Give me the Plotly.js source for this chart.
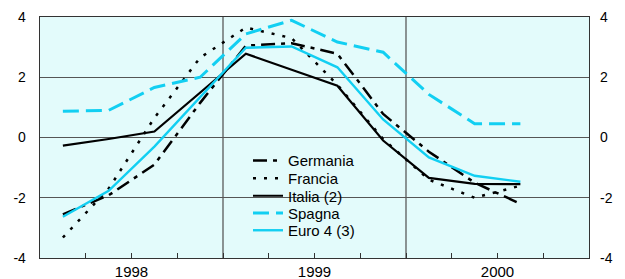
<!DOCTYPE html>
<html>
<head>
<meta charset="utf-8">
<script src="https://cdn.plot.ly/plotly-3.0.1.min.js"></script>
<style>html,body{margin:0;padding:0;background:#fff}#chart{width:625px;height:279px}</style>
</head>
<body>
<div id="chart"></div>
<script>
// Quarterly observations, Q1 1998 – Q3 2000
const quarters = ['1998Q1','1998Q2','1998Q3','1998Q4','1999Q1','1999Q2','1999Q3','1999Q4','2000Q1','2000Q2','2000Q3'];
const germania = [-2.55, -1.92, -0.90, 1.15, 3.05, 3.13, 2.78, 0.78, -0.47, -1.50, -2.20];
const francia  = [-3.32, -1.70, 0.65, 2.65, 3.65, 3.30, 1.75, -0.05, -1.40, -2.00, -1.60];
const italia   = [-0.27, -0.05, 0.20, 1.50, 2.78, 2.25, 1.72, -0.10, -1.34, -1.54, -1.55];
const spagna   = [0.87, 0.90, 1.66, 2.00, 3.44, 3.89, 3.17, 2.83, 1.43, 0.46, 0.46];
const euro4    = [-2.63, -1.77, -0.30, 1.35, 2.98, 3.02, 2.33, 0.60, -0.66, -1.27, -1.47];
const seriesNames = ['Germania', 'Francia', 'Italia (2)', 'Spagna', 'Euro 4 (3)'];
const yearLabels = ['1998', '1999', '2000'];
const yTicks = [-4, -2, 0, 2, 4];
const yTickText = ['-4', '-2', '0', '2', '4'];

// position of each quarter at its mid-point on a decimal-year axis
const xq = quarters.map(q => +q.slice(0, 4) + (+q.slice(5) - 0.5) / 4);
const yearMid = yearLabels.map(y => +y + 0.5);
const yearBounds = yearLabels.slice(1).map(y => +y);

const FONT = 'Arial, "Liberation Sans", sans-serif';
const CYAN = '#12cff2';
const BG = '#e3fbfb';

const styles = [
  {color: '#000', width: 2.5, dash: '14px,6px,4px,6px'},
  {color: '#000', width: 2.5, dash: '3px,8px'},
  {color: '#000', width: 2.2},
  {color: CYAN, width: 3, dash: '16px,7px'},
  {color: CYAN, width: 2.4}
];
const values = [germania, francia, italia, spagna, euro4];
const legendIds = ['legend', 'legend2', 'legend3', 'legend4', 'legend5'];

const traces = values.map((v, i) => ({
  x: xq, y: v, name: seriesNames[i], type: 'scatter', mode: 'lines', hoverinfo: 'skip',
  line: styles[i], legend: legendIds[i]
}));
traces.push({x: [], y: [], yaxis: 'y2', type: 'scatter', mode: 'lines', showlegend: false, hoverinfo: 'skip'});

const L = 40, R = 589, T = 17, B = 258;
const px = v => (v - L) / (R - L);
const py = v => (B - v) / (B - T);

const shapes = yearBounds.map(v => ({
  type: 'line', xref: 'x', yref: 'paper', x0: v, x1: v, y0: 0, y1: 1,
  line: {color: '#5a5a5a', width: 1.3}, layer: 'between'
}));
shapes.push({type: 'rect', xref: 'paper', yref: 'paper', x0: px(227.5), x1: px(386), y0: py(250), y1: py(148),
  fillcolor: BG, line: {width: 0}, layer: 'between'});

const layout = {
  width: 625, height: 279,
  margin: {l: L, r: 625 - R, t: T, b: 279 - B, pad: 0},
  paper_bgcolor: '#fff', plot_bgcolor: BG,
  font: {family: FONT, color: '#000'},
  showlegend: true,
  xaxis: {
    range: [1998, 2001], tickmode: 'array', tickvals: yearMid, ticktext: yearLabels,
    ticks: 'inside', ticklen: 5, tickcolor: '#333', tickwidth: 1,
    minor: {dtick: 0.25, tick0: 1998, ticks: 'inside', ticklen: 5, tickcolor: '#333', showgrid: false},
    showgrid: false, zeroline: false, showline: true, mirror: true, linecolor: '#333', linewidth: 1.3,
    tickfont: {family: FONT, size: 15}, fixedrange: true
  },
  yaxis: {
    range: [-4, 4], tickmode: 'array', tickvals: yTicks, ticktext: yTickText, ticks: '',
    showgrid: true, gridcolor: '#555', gridwidth: 1.2, zeroline: false,
    showline: true, mirror: true, linecolor: '#333', linewidth: 1.3,
    tickfont: {family: FONT, size: 14}, ticklabelstandoff: 10, fixedrange: true
  },
  yaxis2: {
    overlaying: 'y', side: 'right', range: [-4, 4], tickmode: 'array', tickvals: yTicks, ticktext: yTickText, ticks: '',
    showgrid: false, zeroline: false, showline: false,
    tickfont: {family: FONT, size: 14}, ticklabelstandoff: 10, fixedrange: true
  },
  shapes: shapes
};
const legendCenters = [160.7, 178.5, 196, 213.3, 230.5];
legendIds.forEach((id, i) => {
  layout[id] = {x: px(248), y: py(legendCenters[i]), xanchor: 'left', yanchor: 'middle',
    bgcolor: 'rgba(0,0,0,0)', font: {family: FONT, size: 15, color: '#000'}, itemwidth: 30};
});

Plotly.newPlot('chart', traces, layout, {displayModeBar: false, staticPlot: true});
</script>
</body>
</html>
